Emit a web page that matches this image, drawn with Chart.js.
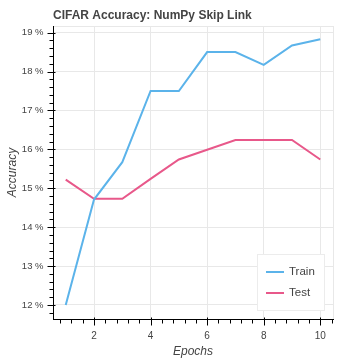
<!DOCTYPE html>
<html>
<head>
<meta charset="utf-8">
<script src="https://cdn.jsdelivr.net/npm/chart.js@4/dist/chart.umd.min.js"></script>
<style>
  html, body { margin: 0; padding: 0; background: #ffffff; }
  #wrap { width: 359px; height: 359px; position: relative; }
</style>
</head>
<body>
<div id="wrap"><canvas id="c" width="359" height="359"></canvas></div>
<script>
// ---- data ----
const epochs = [1, 2, 3, 4, 5, 6, 7, 8, 9, 10];
const trainAcc = [12.0, 14.71, 15.67, 17.5, 17.5, 18.5, 18.5, 18.17, 18.67, 18.83];
const testAcc = [15.22, 14.73, 14.73, 15.24, 15.74, 15.99, 16.24, 16.24, 16.24, 15.74];
const xMajorTicks = [2, 4, 6, 8, 10];
const yMajorTicks = [12, 13, 14, 15, 16, 17, 18, 19];
const seriesLabels = ['Train', 'Test'];
const titleText = 'CIFAR Accuracy: NumPy Skip Link';
const xTitle = 'Epochs';
const yTitle = 'Accuracy';

const colors = ['#5BB3EA', '#E8588A'];
const FONT = '"Liberation Sans", Arial, Helvetica, sans-serif';
const TEXT = '#444444';
const GRID = '#e8e8e8';

const toPts = (ys) => epochs.map((x, i) => ({ x: x, y: ys[i] }));

// minor ticks (5 per major interval)
function minorValues(majors, step, min, max) {
  const out = [];
  const start = majors[0] - step * 5;
  for (let v = start; v <= max + 1e-9; v += step) {
    const r = Math.round(v * 1000) / 1000;
    if (r >= min - 1e-9) out.push(r);
  }
  return out;
}

const bokehPlugin = {
  id: 'bokeh',
  beforeDatasetsDraw(chart) {
    const a = chart.chartArea, ctx = chart.ctx;
    ctx.save();
    ctx.strokeStyle = GRID;
    ctx.lineWidth = 1;
    ctx.strokeRect(Math.round(a.left) + 0.5, Math.round(a.top) + 0.5,
      Math.round(a.right - a.left), Math.round(a.bottom - a.top));
    ctx.restore();
  },
  afterDatasetsDraw(chart) {
    const a = chart.chartArea, ctx = chart.ctx;
    const xs = chart.scales.x, ys = chart.scales.y;
    const L = Math.round(a.left) + 0.5, B = Math.round(a.bottom) + 0.5;
    ctx.save();
    ctx.strokeStyle = '#000000';
    ctx.lineWidth = 1;
    ctx.beginPath();
    // axis lines
    ctx.moveTo(L, Math.round(a.top));
    ctx.lineTo(L, Math.round(a.bottom) + 1);
    ctx.moveTo(Math.round(a.left), B);
    ctx.lineTo(Math.round(a.right) + 1, B);
    // x ticks
    minorValues(xMajorTicks, 0.4, xs.min, xs.max).forEach(v => {
      const p = Math.round(xs.getPixelForValue(v)) + 0.5;
      ctx.moveTo(p, B); ctx.lineTo(p, B + 4);
    });
    xMajorTicks.forEach(v => {
      const p = Math.round(xs.getPixelForValue(v)) + 0.5;
      ctx.moveTo(p, B - 2); ctx.lineTo(p, B + 6);
    });
    // y ticks
    minorValues(yMajorTicks, 0.2, ys.min, ys.max).forEach(v => {
      const p = Math.round(ys.getPixelForValue(v)) + 0.5;
      ctx.moveTo(L, p); ctx.lineTo(L - 4, p);
    });
    yMajorTicks.forEach(v => {
      const p = Math.round(ys.getPixelForValue(v)) + 0.5;
      ctx.moveTo(L + 2, p); ctx.lineTo(L - 6, p);
    });
    ctx.stroke();

    // legend
    const lw = 67, lh = 56;
    const lx = Math.round(a.right) - 9 - lw, ly = Math.round(a.bottom) - 9 - lh;
    ctx.fillStyle = '#ffffff';
    ctx.fillRect(lx, ly, lw, lh);
    ctx.strokeStyle = '#ececec';
    ctx.strokeRect(lx + 0.5, ly + 0.5, lw, lh);
    ctx.font = '11.5px ' + FONT;
    ctx.textBaseline = 'middle';
    ctx.textAlign = 'left';
    chart.data.datasets.forEach((ds, i) => {
      const cy = ly + 18 + i * 21;
      ctx.strokeStyle = ds.borderColor;
      ctx.lineWidth = 2;
      ctx.beginPath();
      ctx.moveTo(lx + 9, cy); ctx.lineTo(lx + 27, cy);
      ctx.stroke();
      ctx.fillStyle = TEXT;
      ctx.fillText(ds.label, lx + 32, cy);
    });

    // title
    ctx.font = 'bold 12px ' + FONT;
    ctx.fillStyle = TEXT;
    ctx.textBaseline = 'alphabetic';
    ctx.fillText(titleText, Math.round(a.left), 18.5);
    ctx.restore();
  }
};

new Chart(document.getElementById('c'), {
  type: 'line',
  data: {
    datasets: [
      { label: seriesLabels[0], data: toPts(trainAcc), borderColor: colors[0], backgroundColor: colors[0],
        borderWidth: 2, pointRadius: 0, tension: 0, fill: false },
      { label: seriesLabels[1], data: toPts(testAcc), borderColor: colors[1], backgroundColor: colors[1],
        borderWidth: 2, pointRadius: 0, tension: 0, fill: false }
    ]
  },
  options: {
    responsive: false,
    animation: false,
    devicePixelRatio: 1,
    layout: { padding: { top: 26, right: 26, left: 0, bottom: 0 } },
    plugins: { legend: { display: false }, title: { display: false }, tooltip: { enabled: false } },
    scales: {
      x: {
        type: 'linear',
        min: 0.55, max: 10.45,
        afterBuildTicks: (s) => { s.ticks = xMajorTicks.map(v => ({ value: v })); },
        afterFit: (s) => { s.height = 40; },
        grid: { color: GRID, lineWidth: 1, drawTicks: false },
        border: { display: false },
        ticks: { color: TEXT, font: { family: FONT, size: 10 }, padding: 11, maxRotation: 0, autoSkip: false,
          callback: (v) => String(v) },
        title: { display: true, text: xTitle, color: TEXT, font: { family: FONT, size: 12, style: 'italic' },
          padding: { top: 0, bottom: 0 } }
      },
      y: {
        type: 'linear',
        min: 11.64, max: 19.17,
        afterBuildTicks: (s) => { s.ticks = yMajorTicks.map(v => ({ value: v })); },
        afterFit: (s) => { s.width = 53; },
        grid: { color: GRID, lineWidth: 1, drawTicks: false },
        border: { display: false },
        ticks: { color: TEXT, font: { family: FONT, size: 9.5 }, padding: 9.5, autoSkip: false,
          callback: (v) => v + ' %' },
        title: { display: true, text: yTitle, color: TEXT, font: { family: FONT, size: 12, style: 'italic' },
          padding: { top: 5, bottom: 0 } }
      }
    }
  },
  plugins: [bokehPlugin]
});
</script>
</body>
</html>
